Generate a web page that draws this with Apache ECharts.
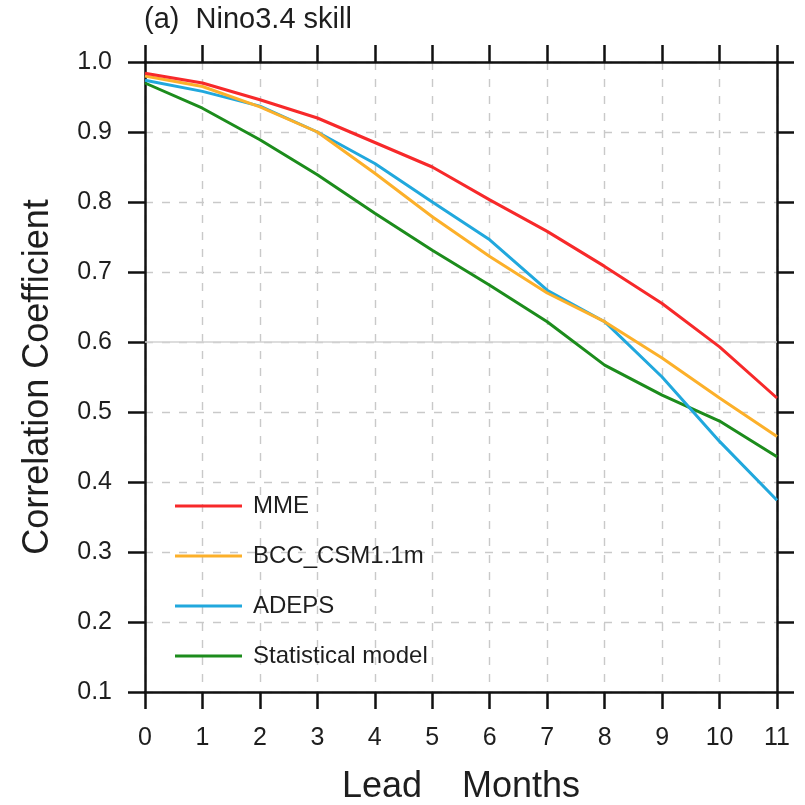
<!DOCTYPE html>
<html>
<head>
<meta charset="utf-8">
<script src="https://cdn.jsdelivr.net/npm/echarts@6/dist/echarts.min.js"></script>
<style>
  html, body { margin: 0; padding: 0; background: #fff; }
  #chart { width: 805px; height: 805px; }
</style>
</head>
<body>
<div id="chart"></div>
<script>
// Lead months on the x axis
var leadMonths = [0, 1, 2, 3, 4, 5, 6, 7, 8, 9, 10, 11];

// Nino3.4 correlation skill per lead month
var mme         = [0.984, 0.970, 0.946, 0.920, 0.885, 0.850, 0.803, 0.758, 0.708, 0.655, 0.593, 0.520];
var bccCsm      = [0.980, 0.965, 0.936, 0.900, 0.841, 0.779, 0.722, 0.670, 0.629, 0.577, 0.520, 0.465];
var adeps       = [0.974, 0.958, 0.937, 0.900, 0.855, 0.800, 0.746, 0.674, 0.629, 0.550, 0.458, 0.374];
var statistical = [0.970, 0.934, 0.889, 0.839, 0.784, 0.731, 0.681, 0.629, 0.567, 0.524, 0.487, 0.436];

var seriesNames = ['MME', 'BCC_CSM1.1m', 'ADEPS', 'Statistical model'];
var seriesColors = ['#f7292a', '#fcb02a', '#21a8dd', '#1c8c1c'];
var seriesValues = [mme, bccCsm, adeps, statistical];

var FONT = '"Liberation Sans", Arial, Helvetica, sans-serif';
var INK = '#1e1e1e';

function pairs(vals) {
  return leadMonths.map(function (m, i) { return [m, vals[i]]; });
}

var gridLine = { show: true, lineStyle: { color: '#c9c9c9', type: [8, 9], width: 1.4 } };
var axisLineStyle = { show: true, onZero: false, lineStyle: { color: '#111', width: 2.5 } };
var tickStyle = { show: true, inside: false, length: 17, lineStyle: { color: '#111', width: 2.5 } };

var series = seriesNames.map(function (name, k) {
  return {
    name: name,
    type: 'line',
    xAxisIndex: 0,
    yAxisIndex: 0,
    data: pairs(seriesValues[k]),
    showSymbol: false,
    symbol: 'none',
    smooth: false,
    lineStyle: { color: seriesColors[k], width: 3 },
    itemStyle: { color: seriesColors[k] },
    z: 8 - k * 0.1
  };
});

// Reference level at 0.6 drawn as a soft solid line
series.push({
  type: 'line',
  data: [],
  xAxisIndex: 0,
  yAxisIndex: 0,
  markLine: {
    silent: true,
    symbol: 'none',
    label: { show: false },
    lineStyle: { color: '#d2d2d2', type: 'solid', width: 1.5 },
    data: [{ yAxis: 0.6 }]
  }
});

var option = {
  animation: false,
  backgroundColor: '#fff',
  title: {
    text: '(a)  Nino3.4 skill',
    left: 144,
    top: 5,
    padding: 0,
    textStyle: { fontFamily: FONT, fontSize: 29, fontWeight: 'normal', color: INK }
  },
  legend: {
    data: seriesNames,
    orient: 'vertical',
    left: 175,
    top: 494,
    padding: 0,
    itemWidth: 67,
    itemHeight: 24,
    itemGap: 26,
    icon: 'path://M0,0 L67,0 L67,3 L0,3 Z',
    textStyle: { fontFamily: FONT, fontSize: 24, lineHeight: 24, color: INK, padding: [0, 0, 0, 6] }
  },
  grid: {
    left: 145, right: 28, top: 62, bottom: 113,
    containLabel: false,
    outerBoundsMode: 'none'
  },
  xAxis: [
    {
      type: 'value', position: 'bottom', min: 0, max: 11, interval: 1,
      axisLine: axisLineStyle, axisTick: tickStyle,
      axisLabel: { margin: 34, fontFamily: FONT, fontSize: 25, color: INK },
      splitLine: gridLine,
      name: 'Lead    Months', nameLocation: 'middle', nameGap: 77,
      nameTextStyle: { fontFamily: FONT, fontSize: 36, color: INK }
    },
    {
      type: 'value', position: 'top', min: 0, max: 11, interval: 1,
      axisLine: axisLineStyle, axisTick: tickStyle,
      axisLabel: { show: false }, splitLine: { show: false }
    }
  ],
  yAxis: [
    {
      type: 'value', position: 'left', min: 0.1, max: 1.0, interval: 0.1,
      axisLine: axisLineStyle, axisTick: tickStyle,
      axisLabel: {
        margin: 33, fontFamily: FONT, fontSize: 25, color: INK,
        formatter: function (v) { return v.toFixed(1); }
      },
      splitLine: gridLine,
      name: 'Correlation Coefficient', nameLocation: 'middle', nameGap: 89, nameRotate: 90,
      nameTextStyle: { fontFamily: FONT, fontSize: 36, color: INK }
    },
    {
      type: 'value', position: 'right', min: 0.1, max: 1.0, interval: 0.1,
      axisLine: axisLineStyle, axisTick: tickStyle,
      axisLabel: { show: false }, splitLine: { show: false }
    }
  ],
  series: series
};

var chart = echarts.init(document.getElementById('chart'), null, { renderer: 'canvas' });
chart.setOption(option);
</script>
</body>
</html>
